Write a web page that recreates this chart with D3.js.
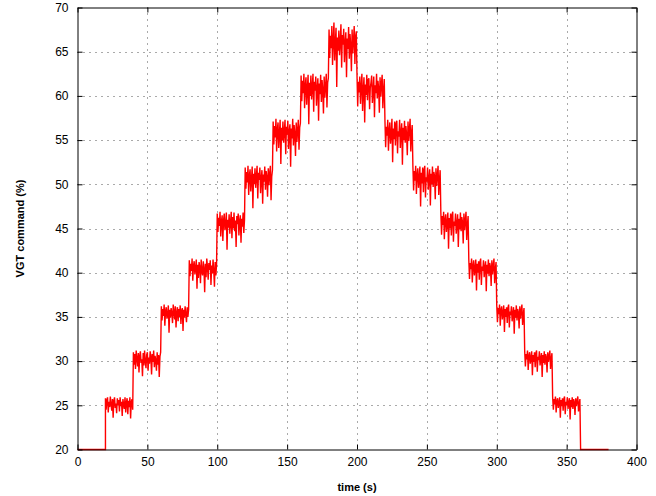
<!DOCTYPE html>
<html>
<head>
<meta charset="utf-8">
<script src="https://cdn.jsdelivr.net/npm/d3@7"></script>
<style>
  html, body { margin: 0; padding: 0; background: #fff; }
  svg { display: block; font-family: "Liberation Sans", Arial, Helvetica, sans-serif; }
</style>
</head>
<body>
<svg id="chart" width="656" height="496"></svg>
<script>
// VGT command logged at 0.5 s intervals, one row per 20 s hold (20 s .. 360 s)
const startTime = 20;
const sampleInterval = 0.5;
const vgtSamples = [
  [25.8,24.5,25.6,25.9,24.2,25.4,24.8,26.0,25.1,24.4,25.7,23.6,25.5,25.9,24.7,25.2,24.1,25.8,25.0,25.6,24.3,25.9,24.9,25.4,23.8,25.7,25.1,24.6,25.9,24.2,25.3,25.8,24.0,25.5,24.8,25.9,23.5,25.4,25.7,24.5],
  [31.0,29.6,30.8,29.1,31.2,30.3,29.4,30.9,28.7,30.6,31.1,29.8,30.2,28.3,30.9,29.5,31.2,30.0,29.2,30.7,31.0,28.9,30.4,29.7,31.1,30.5,28.5,30.8,29.9,31.2,29.3,30.6,30.1,28.9,31.0,29.6,30.7,28.2,30.5,31.0],
  [36.2,34.6,35.9,35.1,36.4,34.0,35.7,36.1,34.8,35.3,36.3,33.2,35.8,34.9,36.0,35.4,34.3,36.4,35.6,34.7,36.2,33.8,35.5,36.1,34.5,35.9,35.0,36.3,34.2,35.7,36.0,33.4,35.8,34.9,36.2,35.3,34.4,36.1,35.0,35.8],
  [41.4,39.6,41.0,40.2,41.6,39.1,40.8,41.3,39.8,40.5,41.5,38.2,40.9,39.4,41.2,40.6,38.8,41.5,40.1,39.7,41.3,40.4,37.8,41.0,39.5,41.6,40.7,39.2,41.1,40.3,41.4,38.6,40.8,39.9,41.5,40.2,38.4,41.2,39.7,40.9],
  [46.7,44.6,46.2,45.3,46.9,44.1,45.8,46.5,43.6,45.9,46.7,44.8,45.4,46.8,42.6,46.0,45.1,46.6,44.4,45.7,46.9,43.9,46.3,45.0,46.8,44.7,45.9,42.9,46.4,45.5,46.7,44.2,45.8,46.5,43.4,46.1,45.2,46.8,44.5,46.0],
  [51.9,49.5,51.4,50.2,52.1,48.8,51.0,51.7,49.2,50.6,52.0,47.3,51.2,50.0,51.8,49.6,50.9,52.1,48.4,51.3,50.5,51.9,49.0,50.7,51.6,47.8,51.1,50.3,52.0,49.4,51.5,50.8,48.6,51.8,49.9,51.2,52.1,48.2,50.9,51.6],
  [57.1,54.5,56.6,55.3,57.4,53.7,56.2,57.0,54.1,55.8,57.3,52.3,56.4,55.0,57.1,54.7,56.0,57.3,53.4,56.5,55.6,57.2,54.0,55.9,56.8,52.0,56.3,55.2,57.4,54.4,56.7,55.7,53.2,57.0,54.8,56.1,57.3,53.9,56.4,56.9],
  [62.3,59.4,61.7,60.3,62.5,58.6,61.2,62.1,59.0,60.9,62.4,56.8,61.5,60.0,62.3,59.6,61.0,62.5,58.2,61.6,60.6,62.2,58.9,60.8,62.0,57.2,61.4,60.2,62.4,59.3,61.8,60.7,58.0,62.2,59.8,61.1,62.5,58.7,61.5,62.0],
  [67.5,64.3,66.8,65.4,67.9,63.5,66.4,68.3,64.0,66.0,67.7,61.0,66.6,65.1,67.4,64.6,66.1,68.1,63.2,66.9,65.8,67.6,63.8,65.9,67.2,62.1,66.5,65.3,67.8,64.2,67.0,65.7,62.8,67.5,64.8,66.3,67.9,63.6,66.7,67.3],
  [62.4,58.8,61.6,60.4,62.2,59.1,61.0,62.5,58.3,60.7,62.1,57.0,61.3,60.1,62.4,59.5,61.8,62.0,58.5,60.9,61.5,62.3,59.2,60.5,62.2,57.6,61.2,60.3,62.5,59.7,61.7,60.8,58.1,62.1,59.9,61.4,62.4,58.6,60.6,61.9],
  [57.2,54.2,56.5,55.5,57.3,53.8,56.1,57.0,54.6,55.7,57.4,52.5,56.3,55.1,57.1,54.4,56.8,57.2,53.5,56.0,55.4,57.3,54.1,55.9,56.9,52.2,56.4,55.0,57.2,54.7,56.6,55.6,53.3,57.1,54.9,56.2,57.4,53.7,55.8,56.7],
  [52.0,49.3,51.5,50.4,52.1,48.9,51.1,51.8,49.6,50.7,52.0,47.5,51.3,50.1,51.9,49.1,51.6,52.1,48.5,50.8,50.3,51.9,49.4,50.6,51.7,47.6,51.2,50.0,52.0,49.7,51.4,50.9,48.3,51.8,49.8,51.0,52.1,48.8,50.5,51.6],
  [46.8,44.3,46.4,45.4,46.9,43.8,46.0,46.6,44.6,45.6,46.8,42.7,46.2,45.0,46.7,44.2,46.5,46.9,43.5,45.8,45.3,46.7,44.4,45.5,46.6,42.9,46.1,44.9,46.8,44.7,46.3,45.7,43.3,46.7,44.8,45.9,46.9,43.7,45.4,46.4],
  [41.5,39.3,41.1,40.4,41.6,38.9,40.8,41.4,39.7,40.5,41.5,38.0,41.0,40.0,41.3,39.2,41.2,41.6,38.6,40.7,40.2,41.4,39.5,40.6,41.3,37.9,40.9,39.9,41.5,39.6,41.1,40.6,38.5,41.4,39.8,40.8,41.6,38.8,40.4,41.2],
  [36.3,34.4,36.0,35.3,36.4,34.0,35.8,36.2,34.7,35.5,36.3,33.3,35.9,35.0,36.1,34.3,36.0,36.4,33.8,35.6,35.2,36.2,34.5,35.4,36.1,33.1,35.8,34.9,36.3,34.6,35.9,35.5,33.7,36.2,34.8,35.7,36.4,34.1,35.3,36.0],
  [31.1,29.4,30.8,30.2,31.2,29.0,30.6,31.0,29.7,30.4,31.1,28.4,30.7,29.9,31.0,29.3,30.9,31.2,28.8,30.5,30.1,31.1,29.5,30.3,30.9,28.2,30.7,29.8,31.1,29.6,30.8,30.4,28.7,31.0,29.9,30.6,31.2,29.1,30.3,30.9],
  [25.9,24.5,25.7,25.1,26.0,24.2,25.5,25.8,24.7,25.3,25.9,23.6,25.6,24.9,25.8,24.4,25.7,26.0,24.0,25.4,25.0,25.9,24.6,25.3,25.8,23.4,25.6,24.8,25.9,24.6,25.7,25.3,23.9,25.8,24.9,25.5,26.0,24.3,25.2,25.7]
];
// idle command before and after the sequence
const idleBefore = [[0, 20], [20, 20]];
const idleAfter = [[360, 20], [380, 20]];

const xTicks = [0, 50, 100, 150, 200, 250, 300, 350, 400];
const yTicks = [20, 25, 30, 35, 40, 45, 50, 55, 60, 65, 70];
const xDomain = [0, 400];
const yDomain = [20, 70];
const xTitle = "time (s)";
const yTitle = "VGT command (%)";

// assemble the time series
const series = [...idleBefore];
vgtSamples.flat().forEach((v, i) => series.push([startTime + i * sampleInterval, v]));
series.push(...idleAfter);

const svg = d3.select("#chart");
const plot = { left: 77.5, right: 636.5, top: 7.5, bottom: 449.5 };
const x = d3.scaleLinear().domain(xDomain).range([plot.left, plot.right]);
const y = d3.scaleLinear().domain(yDomain).range([plot.bottom, plot.top]);

// dotted grid
const grid = svg.append("g").attr("stroke", "#555").attr("stroke-width", 1)
  .attr("stroke-dasharray", "1,5");
grid.selectAll("line.gx").data(xTicks.slice(1, -1)).join("line")
  .attr("x1", d => Math.round(x(d)) + 0.5).attr("x2", d => Math.round(x(d)) + 0.5)
  .attr("y1", plot.top).attr("y2", plot.bottom);
grid.selectAll("line.gy").data(yTicks.slice(1, -1)).join("line")
  .attr("y1", d => Math.round(y(d)) + 0.5).attr("y2", d => Math.round(y(d)) + 0.5)
  .attr("x1", plot.left).attr("x2", plot.right);

// signal
const line = d3.line().x(d => x(d[0])).y(d => y(d[1]));
svg.append("path").datum(series)
  .attr("fill", "none").attr("stroke", "#ff0000").attr("stroke-width", 1.4)
  .attr("stroke-linejoin", "miter").attr("d", line);

// axes with inward ticks on all four sides
const tickLen = 5;
const fmt = d3.format("d");
const bottomAxis = d3.axisBottom(x).tickValues(xTicks).tickFormat(fmt).tickSizeInner(-tickLen).tickSizeOuter(0).tickPadding(8);
const topAxis = d3.axisTop(x).tickValues(xTicks).tickFormat("").tickSizeInner(-tickLen).tickSizeOuter(0);
const leftAxis = d3.axisLeft(y).tickValues(yTicks).tickFormat(fmt).tickSizeInner(-tickLen).tickSizeOuter(0).tickPadding(9);
const rightAxis = d3.axisRight(y).tickValues(yTicks).tickFormat("").tickSizeInner(-tickLen).tickSizeOuter(0);

function styleAxis(g) {
  g.selectAll(".domain").attr("stroke", "#000");
  g.selectAll(".tick line").attr("stroke", "#000");
  g.selectAll(".tick text").attr("fill", "#000")
    .style("font-family", "'Liberation Sans', Arial, Helvetica, sans-serif").style("font-size", "12px");
}
svg.append("g").attr("transform", `translate(0,${plot.bottom})`).call(bottomAxis).call(styleAxis);
svg.append("g").attr("transform", `translate(0,${plot.top})`).call(topAxis).call(styleAxis);
svg.append("g").attr("transform", `translate(${plot.left},0)`).call(leftAxis).call(styleAxis);
svg.append("g").attr("transform", `translate(${plot.right},0)`).call(rightAxis).call(styleAxis);

// axis titles
svg.append("text").attr("x", (plot.left + plot.right) / 2).attr("y", 491)
  .attr("text-anchor", "middle").style("font-size", "11px").style("font-weight", "bold")
  .text(xTitle);
svg.append("text")
  .attr("transform", `translate(24,${(plot.top + plot.bottom) / 2}) rotate(-90)`)
  .attr("text-anchor", "middle").style("font-size", "11px").style("font-weight", "bold")
  .text(yTitle);
</script>
</body>
</html>
